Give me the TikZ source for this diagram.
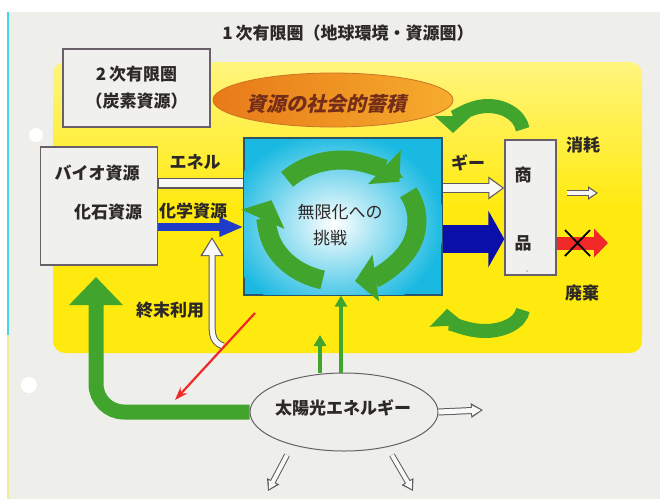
\documentclass[tikz,border=0pt]{standalone}
\usepackage{fontspec}
\setmainfont{Noto Sans CJK JP}
\newfontfamily\jpslant[FakeSlant=0.22]{Noto Sans CJK JP}
\usetikzlibrary{arrows.meta,shapes.geometric,calc}
\definecolor{pagebg}{RGB}{238,238,234}
\definecolor{edgecyan}{RGB}{70,215,230}
\definecolor{edgeyel}{RGB}{245,235,150}
\definecolor{yelT}{RGB}{255,245,125}
\definecolor{yelB}{RGB}{255,234,15}
\definecolor{boxfill}{RGB}{240,240,238}
\definecolor{boxline}{RGB}{105,95,105}
\definecolor{ink}{RGB}{45,40,40}
\definecolor{orgL}{RGB}{232,122,25}
\definecolor{orgR}{RGB}{246,172,45}
\definecolor{orgline}{RGB}{205,115,40}
\definecolor{orgtext}{RGB}{115,45,25}
\definecolor{cyanC}{RGB}{25,185,225}
\definecolor{cyanLine}{RGB}{45,85,105}
\definecolor{grn}{RGB}{65,165,45}
\definecolor{blueS}{RGB}{30,60,200}
\definecolor{blueB}{RGB}{10,15,170}
\definecolor{redA}{RGB}{240,40,40}
\definecolor{hollowline}{RGB}{95,90,95}
\definecolor{hollowfill}{RGB}{248,248,246}
\newcommand\hollowarrow[4]{% #1 path, #2 shaft width, #3 head width, #4 head length
  \pgfmathsetmacro\hwA{#2-2}\pgfmathsetmacro\hwB{#3-4.5}\pgfmathsetmacro\hwC{#4-3}%
  \draw[hollowline, line width=#2pt, -{Triangle[length=#4pt,width=#3pt]}] #1;
  \draw[hollowfill, line width=\hwA pt, shorten >=2pt, -{Triangle[length=\hwC pt,width=\hwB pt]}] #1;
}
\tikzset{
  box/.style={draw=boxline, fill=boxfill, line width=1.4pt, inner sep=0pt},
  lbl/.style={text=ink, font=\fontsize{17}{20}\selectfont\bfseries, inner sep=0pt},
  rgrn/.style={grn, line width=19pt, -{Triangle[length=21pt,width=46pt]}},
  ugrn/.style={grn, line width=14pt, -{Triangle[length=17pt,width=36pt]}},
}
\begin{document}
\begin{tikzpicture}[x=1pt,y=-1pt]
\useasboundingbox (0,0) rectangle (660,499);
\fill[white] (0,0) rectangle (660,499);
\fill[pagebg] (8,12) rectangle (660,499);
\draw[edgecyan, line width=2pt] (8,12) -- (8,335);
\draw[edgeyel, line width=2pt] (8,335) -- (8,499);
\fill[white] (36,135) circle (7);
\fill[white] (29,385) circle (8);

% title
\node[lbl] (title) at (348,33) {1\,次有限圏（地球環境・資源圏）};

% yellow region
\shade[top color=yelT, bottom color=yelB, middle color=yelB, rounded corners=12pt] (53,62) rectangle (642,353);

% secondary box
\node[box, minimum width=147pt, minimum height=78pt, align=center, text=ink,
      font=\fontsize{17}{27}\selectfont\bfseries] (sec) at (136.5,88) {2\,次有限圏\\（炭素資源）};

% orange ellipse
\node[ellipse, draw=orgline, line width=0.8pt, left color=orgL, right color=orgR,
      minimum width=240pt, minimum height=54pt, inner sep=0pt] (stock) at (333,100) {};
\node[text=orgtext, font=\fontsize{20}{22}\selectfont\jpslant\bfseries, inner sep=0pt] (stockT) at (326,104) {資源の社会的蓄積};

% bio / fossil box
\node[box, minimum width=117pt, minimum height=118pt] (bio) at (99,206) {};
\node[lbl] (bioT) at (97,173) {バイオ資源};
\node[lbl] (fosT) at (108,212) {化石資源};

% central cyan box
\node[draw=cyanLine, fill=cyanC, line width=1.2pt, minimum width=198pt, minimum height=157pt, inner sep=0pt] (lab) at (343,216.5) {};
\begin{scope}
  \clip (244,139) rectangle (442,294);
  \shade[inner color=white, outer color=cyanC] (334,224) ellipse [x radius=110, y radius=92];
\end{scope}
\draw[cyanLine, line width=1.2pt] (lab.north west) rectangle (lab.south east);

% circular arrows
\draw[rgrn] (342,221) ++(-137:75 and 61) arc[start angle=-137, end angle=-40, x radius=75, y radius=61];
\draw[rgrn] (342,221) ++(-28:75 and 61) arc[start angle=-28, end angle=80, x radius=75, y radius=61];
\draw[rgrn] (342,221) ++(105:75 and 61) arc[start angle=105, end angle=200, x radius=75, y radius=61];
\node[text=ink, font=\fontsize{17}{20}\selectfont, inner sep=0pt] (labT1) at (340,212) {無限化への};
\node[text=ink, font=\fontsize{17}{20}\selectfont, inner sep=0pt] (labT2) at (330,238) {挑戦};

% goods box
\node[box, minimum width=51pt, minimum height=135pt] (goods) at (530.5,207.5) {};
\node[lbl] (goodsA) at (523,175) {商};
\node[lbl] (goodsB) at (523,243) {品};
\fill[boxline!50] (527,271) circle (1);

% energy (hollow) band and arrow
\draw[hollowline, line width=11pt] (bio.east|-0,183) -- (lab.west|-0,183);
\draw[hollowfill, line width=8.6pt] ([xshift=0.7pt]bio.east|-0,183) -- ([xshift=-0.7pt]lab.west|-0,183);
\hollowarrow{(lab.east|-0,188) -- (goods.west|-0,188)}{10}{22}{16}
\node[lbl] (ene1) at (195,162) {エネル};
\node[lbl] (ene2) at (468,163) {ギー};

% chemical resources
\draw[blueS, line width=8pt, -{Triangle[length=24pt,width=18pt]}] (bio.east|-0,227) -- (lab.west|-0,227);
\node[lbl] (chem) at (193,211) {化学資源};
\draw[blueB, line width=28pt, -{Triangle[length=16pt,width=56pt]}] (lab.east|-0,239) -- (goods.west|-0,239);

% outputs
\coordinate (consEnd) at (598,193);
\coordinate (consStart) at (567,193);
\hollowarrow{(consStart) -- (consEnd)}{6}{13}{10}
\node[lbl] (cons) at (583,145) {消耗};
\coordinate (wasteEnd) at (608,243);
\draw[redA, line width=13pt, -{Triangle[length=14pt,width=28pt]}] (goods.east|-0,243) -- (wasteEnd);
\draw[black, line width=1.8pt] (565,230) -- (590,256) (565,256) -- (590,230);
\node[lbl] (waste) at (582,293) {廃棄};

% recycling arrows right
\draw[ugrn] (488,133) ++(-8:35 and 27) arc[start angle=-8, end angle=-180, x radius=35, y radius=27];
\draw[ugrn] (485,308) ++(5:38 and 23) arc[start angle=5, end angle=178, x radius=38, y radius=23];

% end use
\coordinate (euStart) at (223,346);
\hollowarrow{(euStart) .. controls (213,342) and (212,336) .. (212,322) -- (212,237)}{7}{22}{19}
\node[lbl] (eu) at (170,310) {終末利用};

% sun
\node[ellipse, draw=boxline, fill=pagebg, line width=1pt, minimum width=188pt, minimum height=78pt, inner sep=0pt] (sun) at (344,412) {};
\node[lbl] (sunT) at (343,408) {太陽光エネルギー};
\draw[grn, line width=4pt, -{Triangle[length=11pt,width=12pt]}] (320,0|-sun.north) -- (320,335);
\draw[grn, line width=4pt, -{Triangle[length=11pt,width=12pt]}] (341,0|-sun.north) -- (341,0|-lab.south);
\draw[grn, line width=15pt, rounded corners=28pt, -{Triangle[length=28pt,width=52pt]}] (sun.west) -- (96,412) -- (96,277);
\coordinate (redS) at (255,313);
\coordinate (redE) at (175,400);
\draw[redA, line width=2.2pt, -{Stealth[length=13pt,width=9pt]}] (redS) -- (redE);

\coordinate (sunR) at (483,410);
\hollowarrow{(sun.east) -- (sunR)}{7}{14}{12}
\coordinate (sbl1) at (287,455);
\coordinate (sbl2) at (268,491);
\hollowarrow{(sbl1) -- (sbl2)}{6}{13}{11}
\coordinate (sbr1) at (392,455);
\coordinate (sbr2) at (413,491);
\hollowarrow{(sbr1) -- (sbr2)}{6}{13}{11}
\end{tikzpicture}
\end{document}
